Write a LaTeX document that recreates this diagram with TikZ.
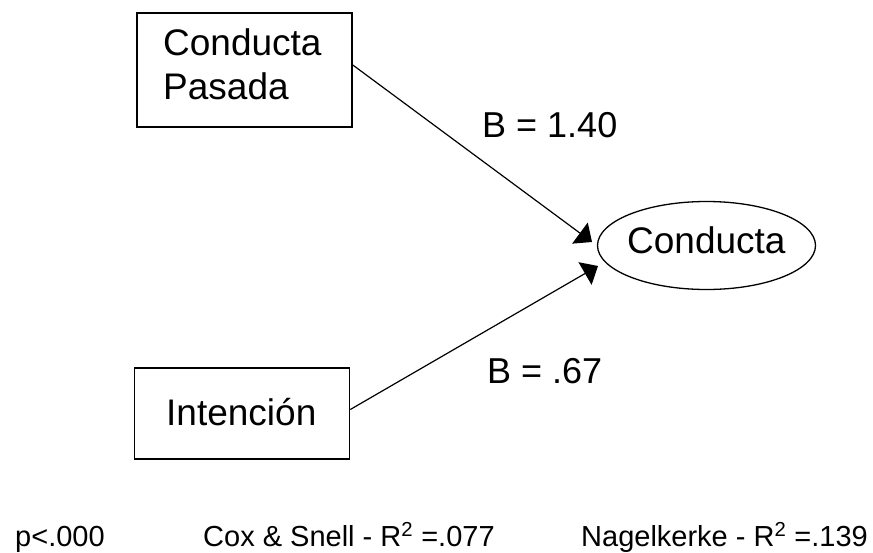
\documentclass[tikz,border=0pt]{standalone}
\usepackage{fontspec}
\setmainfont{Liberation Sans}
\usetikzlibrary{arrows.meta,shapes.geometric}
\begin{document}
\begin{tikzpicture}[x=1pt,y=-1pt,
  varbox/.style={draw,line width=1.6pt,rectangle,minimum width=215pt,inner sep=0pt},
  boxtext/.style={inner sep=0pt,anchor=base west,align=left,font=\fontsize{37}{44}\selectfont},
  outcome/.style={draw,line width=1.3pt,ellipse,minimum width=218pt,minimum height=88pt,inner sep=0pt},
  path/.style={line width=1.2pt,-{Triangle[length=15pt,width=26pt]}},
  coef/.style={inner sep=0pt,anchor=base west,font=\fontsize{36}{40}\selectfont},
  stat/.style={inner sep=0pt,anchor=base west,font=\fontsize{29}{34}\selectfont}]
\useasboundingbox (0,0) rectangle (873,552);
% predictor boxes
\node[varbox,minimum height=114pt] (past) at (244.5,70) {};
\node[boxtext] (pastlbl) at (163,99) {Conducta\\Pasada};
\node[varbox,minimum height=91pt] (intent) at (242,413.5) {};
\node[boxtext] (intentlbl) at (166,425) {Intención};
% outcome
\node[outcome] (beh) at (706.5,245.5) {};
\node[boxtext] (behlbl) at (627,253) {Conducta};
% paths
\coordinate (tipA) at (592,242);
\coordinate (tipB) at (598,266);
\draw[path] (past.east) ++(0,-5) -- (tipA);
\draw[path] (intent.east) ++(0,-4) -- (tipB);
\node[coef] (bA) at (482,137) {B = 1.40};
\node[coef] (bB) at (487,383) {B = .67};
% fit statistics
\node[stat] (p) at (15,546) {p<.000};
\node[stat] (cs) at (203,546) {Cox \& Snell - R\textsuperscript{2} =.077};
\node[stat] (nk) at (581,546) {Nagelkerke - R\textsuperscript{2} =.139};
\end{tikzpicture}
\end{document}
